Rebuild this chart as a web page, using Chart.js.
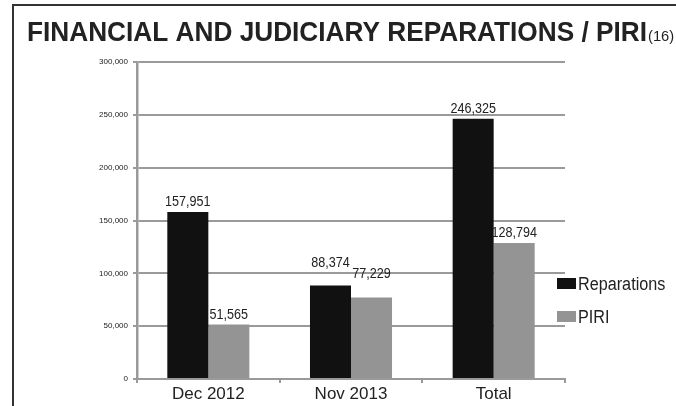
<!DOCTYPE html>
<html>
<head>
<meta charset="utf-8">
<script src="https://cdn.jsdelivr.net/npm/chart.js@4/dist/chart.umd.min.js"></script>
<style>
html,body{margin:0;padding:0;background:#fff;}
#wrap{width:676px;height:406px;position:relative;}
</style>
</head>
<body>
<div id="wrap"><canvas id="c" width="676" height="406"></canvas></div>
<script>
const titleMain = "FINANCIAL AND JUDICIARY REPARATIONS / PIRI";
const titleNote = "(16)";
const categories = ["Dec 2012", "Nov 2013", "Total"];
const reparations = [157951, 88374, 246325];
const piri = [51565, 77229, 128794];
const seriesNames = ["Reparations", "PIRI"];
const seriesColors = ["#111111", "#949494"];
const yTicks = [0, 50000, 100000, 150000, 200000, 250000, 300000];

const SANS = '"Liberation Sans", Arial, sans-serif';

const fmt = v => Number(v).toLocaleString('en-US');

function scaledText(ctx, text, x, y, sx, align) {
  ctx.save();
  const w = ctx.measureText(text).width * sx;
  let left = x;
  if (align === 'center') left = x - w / 2;
  else if (align === 'right') left = x - w;
  ctx.translate(left, y);
  ctx.scale(sx, 1);
  ctx.textAlign = 'left';
  ctx.fillText(text, 0, 0);
  ctx.restore();
  return w;
}

const decor = {
  id: 'decor',
  afterDraw(chart, args, opts) {
    const ctx = chart.ctx;
    const lift = opts.lift || [];
    ctx.save();
    // frame
    ctx.strokeStyle = '#333';
    ctx.lineWidth = 2;
    ctx.beginPath();
    ctx.moveTo(676, 5);
    ctx.lineTo(13, 5);
    ctx.lineTo(13, 406);
    ctx.stroke();
    // title
    ctx.fillStyle = '#222';
    ctx.textBaseline = 'alphabetic';
    ctx.font = 'bold 28px ' + SANS;
    const tw = ctx.measureText(titleMain).width;
    const sx = 620 / tw;
    scaledText(ctx, titleMain, 27, 40.5, sx, 'left');
    ctx.font = '15px ' + SANS;
    scaledText(ctx, titleNote, 648, 40.5, 0.98, 'left');
    // data labels
    ctx.fillStyle = '#222';
    ctx.font = '15px ' + SANS;
    ctx.textBaseline = 'alphabetic';
    chart.data.datasets.forEach((ds, i) => {
      const meta = chart.getDatasetMeta(i);
      meta.data.forEach((el, j) => {
        scaledText(ctx, fmt(ds.data[j]), el.x, el.y - 6 - (lift[j] || 0), 0.84, 'center');
      });
    });
    // legend
    chart.data.datasets.forEach((ds, i) => {
      const y = 278 + 33 * i;
      ctx.fillStyle = ds.backgroundColor;
      ctx.fillRect(557, y, 19, 11);
      ctx.fillStyle = '#222';
      ctx.font = '18px ' + SANS;
      ctx.textBaseline = 'alphabetic';
      scaledText(ctx, ds.label, 578, y + 12, 0.9, 'left');
    });
    ctx.restore();
  }
};

new Chart(document.getElementById('c'), {
  type: 'bar',
  data: {
    labels: categories,
    datasets: [
      { label: seriesNames[0], data: reparations, backgroundColor: seriesColors[0] },
      { label: seriesNames[1], data: piri, backgroundColor: seriesColors[1] }
    ]
  },
  options: {
    responsive: false,
    animation: false,
    devicePixelRatio: 1,
    layout: { padding: { top: 62, right: 111, left: 0, bottom: 0 } },
    datasets: { bar: { categoryPercentage: 0.575, barPercentage: 1.0 } },
    plugins: {
      legend: { display: false }, title: { display: false }, tooltip: { enabled: false },
      decor: { lift: [0, 13, 0] }
    },
    scales: {
      x: {
        grid: { drawOnChartArea: false, color: '#9a9a9a', tickLength: 4, lineWidth: 2 },
        border: { color: '#9a9a9a', width: 2 },
        ticks: { color: '#222', font: { family: SANS, size: 17 }, padding: 1 },
        afterFit(s) { s.height = 27; }
      },
      y: {
        min: 0, max: 300000,
        afterBuildTicks(s) { s.ticks = yTicks.map(v => ({ value: v })); },
        grid: { color: '#9a9a9a', lineWidth: 2, tickLength: 4 },
        border: { color: '#9a9a9a', width: 2.5 },
        ticks: { color: '#222', font: { family: SANS, size: 8 }, padding: 5, callback: v => fmt(v) },
        afterFit(s) { s.width = 137; }
      }
    }
  },
  plugins: [decor]
});
</script>
</body>
</html>
